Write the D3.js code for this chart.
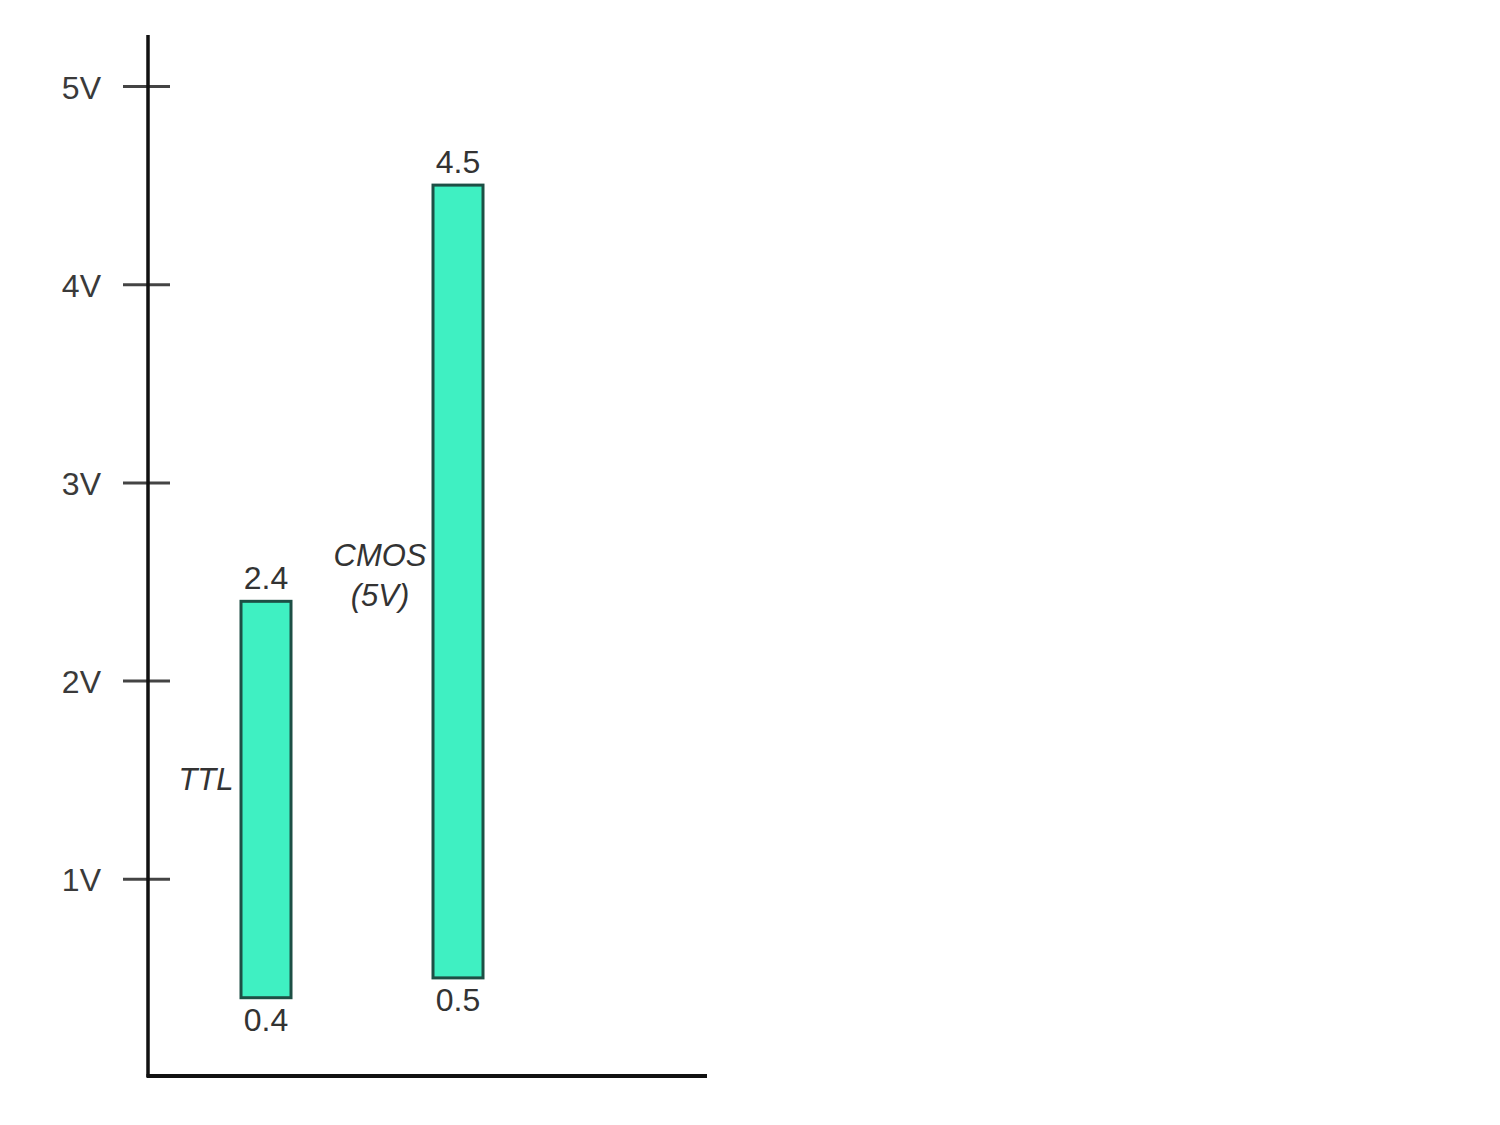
<!DOCTYPE html>
<html lang="en">
<head>
  <meta charset="UTF-8">
  <title>TTL vs CMOS output levels</title>
  <script src="https://d3js.org/d3.v7.min.js"></script>
  <style>
    body { margin: 0; background: #fff; font-family: "Liberation Sans", Arial, sans-serif; }
    .tick text { fill: #3a3a3a; font-size: 32px; }
    .val { fill: #333; font-size: 32px; text-anchor: middle; }
    .name { fill: #333; font-size: 31px; font-style: italic; text-anchor: middle; }
  </style>
</head>
<body>
  <div id="chart"></div>
  <script>
    // data
    const families = ["TTL", "CMOS (5V)"];
    const nameLines = [["TTL"], ["CMOS", "(5V)"]];
    const lows = [0.4, 0.5];
    const highs = [2.4, 4.5];
    const tickValues = [1, 2, 3, 4, 5];
    const tickLabels = ["1V", "2V", "3V", "4V", "5V"];

    const width = 1500, height = 1125;
    const axisX = 148, baseY = 1077;

    const svg = d3.select("#chart").append("svg")
      .attr("width", width)
      .attr("height", height);

    const y = d3.scaleLinear().domain([0, 5]).range([baseY, 86]);
    const x = d3.scalePoint().domain(families).range([266, 458]);
    const barW = 50;

    // y axis with ticks crossing the line
    const yAxis = svg.append("g")
      .attr("transform", `translate(${axisX},0)`)
      .call(d3.axisLeft(y)
        .tickValues(tickValues)
        .tickFormat((d, i) => tickLabels[i])
        .tickSize(25)
        .tickPadding(22));
    yAxis.select(".domain").remove();
    yAxis.selectAll(".tick line")
      .attr("x1", -25).attr("x2", 22)
      .attr("stroke", "#444").attr("stroke-width", 3);
    yAxis.selectAll(".tick text")
      .attr("font-family", "Liberation Sans, Arial, sans-serif")
      .attr("dy", "0.38em");

    svg.append("line")
      .attr("x1", axisX).attr("x2", axisX)
      .attr("y1", 35).attr("y2", baseY)
      .attr("stroke", "#111").attr("stroke-width", 3.5);
    svg.append("line")
      .attr("x1", axisX - 1.5).attr("x2", 707)
      .attr("y1", baseY - 1).attr("y2", baseY - 1)
      .attr("stroke", "#111").attr("stroke-width", 4);

    // bars
    svg.selectAll(".bar")
      .data(families)
      .join("rect")
      .attr("class", "bar")
      .attr("x", d => x(d) - barW / 2)
      .attr("y", (d, i) => y(highs[i]))
      .attr("width", barW)
      .attr("height", (d, i) => y(lows[i]) - y(highs[i]))
      .attr("fill", "#3ff0c2")
      .attr("stroke", "#1d4f45")
      .attr("stroke-width", 3);

    // value labels
    svg.selectAll(".hi")
      .data(families)
      .join("text")
      .attr("class", "val")
      .attr("x", d => x(d))
      .attr("y", (d, i) => y(highs[i]) - 12)
      .text((d, i) => highs[i].toFixed(1));
    svg.selectAll(".lo")
      .data(families)
      .join("text")
      .attr("class", "val")
      .attr("x", d => x(d))
      .attr("y", (d, i) => y(lows[i]) + 33)
      .text((d, i) => lows[i].toFixed(1));

    // family names to the left of bars
    const namePos = [[206, y(1.45)], [380, y(2.58)]];
    families.forEach((f, i) => {
      const t = svg.append("text")
        .attr("class", "name")
        .attr("x", namePos[i][0])
        .attr("y", namePos[i][1]);
      nameLines[i].forEach((line, j) => {
        t.append("tspan")
          .attr("x", namePos[i][0])
          .attr("dy", j === 0 ? 0 : 40)
          .text(line);
      });
    });
  </script>
</body>
</html>
